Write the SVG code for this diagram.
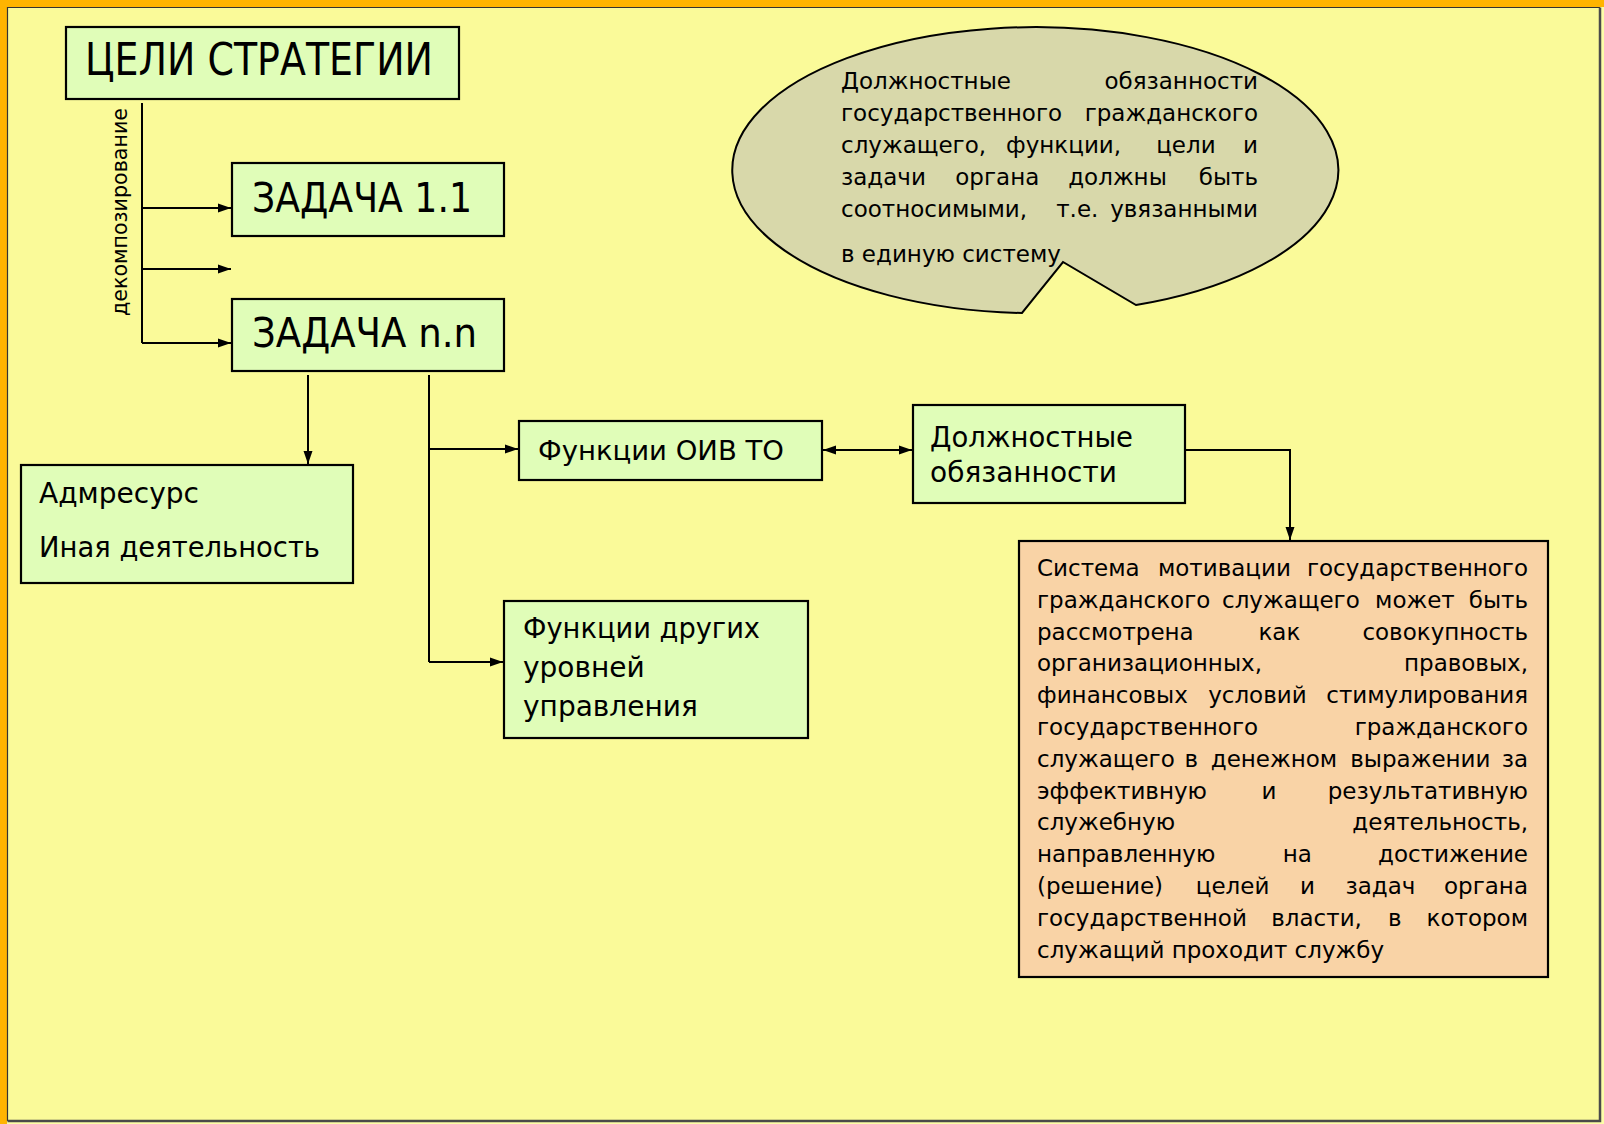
<svg xmlns="http://www.w3.org/2000/svg" width="1604" height="1124" viewBox="0 0 1604 1124">
<defs>
<style>
text{font-family:"DejaVu Sans","Liberation Sans",sans-serif;fill:#000}
.box{fill:#E0FDB8;stroke:#000;stroke-width:2.2}
.peach{fill:#F9D3A6;stroke:#000;stroke-width:2.2}
.bubble{fill:#D8D8AA;stroke:#000;stroke-width:2}
.ln{fill:none;stroke:#000;stroke-width:2}
.p{font-size:23px}
</style>
<marker id="ah" markerUnits="userSpaceOnUse" markerWidth="14" markerHeight="10" refX="13" refY="5" orient="auto-start-reverse">
<path d="M0,0.5 L13,5 L0,9.5 Z" fill="#000"/>
</marker>
</defs>
<rect x="0" y="0" width="1604" height="1124" fill="#FDFDA8"/>
<rect x="7" y="7" width="1593" height="1114" fill="#FAFA99"/>
<rect x="0" y="0" width="1604" height="7" fill="#FFB400"/>
<rect x="0" y="0" width="7" height="1124" fill="#FFB400"/>
<path d="M7.5,1121 V7.5 H1600" fill="none" stroke="#333" stroke-width="1.2"/>
<path d="M1600,7.5 V1121 H7.5" fill="none" stroke="#4a4a4a" stroke-width="2.5"/>

<g id="connectors">
<path class="ln" d="M142,103 V343"/>
<path class="ln" d="M142,208 H231" marker-end="url(#ah)"/>
<path class="ln" d="M142,269 H231" marker-end="url(#ah)"/>
<path class="ln" d="M142,343 H231" marker-end="url(#ah)"/>
<path class="ln" d="M308,375 V464" marker-end="url(#ah)"/>
<path class="ln" d="M429,375 V662"/>
<path class="ln" d="M429,449 H518" marker-end="url(#ah)"/>
<path class="ln" d="M429,662 H503" marker-end="url(#ah)"/>
<path class="ln" d="M823,450 H912" marker-start="url(#ah)" marker-end="url(#ah)"/>
<path class="ln" d="M1185,450 H1290 V540" marker-end="url(#ah)"/>
<text transform="translate(127,212) rotate(-90)" text-anchor="middle" font-size="22" textLength="208" lengthAdjust="spacingAndGlyphs">декомпозирование</text>
</g>

<g id="goals">
<rect class="box" x="66" y="27" width="393" height="72"/>
<text x="85" y="75" font-size="44" textLength="348" lengthAdjust="spacingAndGlyphs">ЦЕЛИ СТРАТЕГИИ</text>
</g>
<g id="task11">
<rect class="box" x="232" y="163" width="272" height="73"/>
<text x="252" y="212" font-size="40" textLength="220" lengthAdjust="spacingAndGlyphs">ЗАДАЧА 1.1</text>
</g>
<g id="tasknn">
<rect class="box" x="232" y="299" width="272" height="72"/>
<text x="252" y="347" font-size="40" textLength="225" lengthAdjust="spacingAndGlyphs">ЗАДАЧА n.n</text>
</g>
<g id="admres">
<rect class="box" x="21" y="465" width="332" height="118"/>
<text x="39" y="503" font-size="28" textLength="160" lengthAdjust="spacingAndGlyphs">Адмресурс</text>
<text x="39" y="557" font-size="28" textLength="281" lengthAdjust="spacingAndGlyphs">Иная деятельность</text>
</g>
<g id="func-oiv">
<rect class="box" x="519" y="421" width="303" height="59"/>
<text x="538" y="460" font-size="27" textLength="246" lengthAdjust="spacingAndGlyphs">Функции ОИВ ТО</text>
</g>
<g id="func-other">
<rect class="box" x="504" y="601" width="304" height="137"/>
<text x="523" y="638" font-size="28" textLength="237" lengthAdjust="spacingAndGlyphs">Функции других</text>
<text x="523" y="677" font-size="28">уровней</text>
<text x="523" y="716" font-size="28">управления</text>
</g>
<g id="duties">
<rect class="box" x="913" y="405" width="272" height="98"/>
<text x="930" y="447" font-size="28" textLength="203" lengthAdjust="spacingAndGlyphs">Должностные</text>
<text x="930" y="482" font-size="28">обязанности</text>
</g>

<g id="callout">
<path class="bubble" d="M1022,313 A303,143 0 1 1 1136,305 L1063,262 Z"/>
<text class="p" y="88.5"><tspan x="841">Должностные</tspan><tspan x="1258" text-anchor="end">обязанности</tspan></text>
<text class="p" y="120.5"><tspan x="841">государственного</tspan><tspan x="1258" text-anchor="end">гражданского</tspan></text>
<text class="p" y="152.5"><tspan x="841">служащего,</tspan><tspan x="1063.6" text-anchor="middle">функции,</tspan><tspan x="1185.9" text-anchor="middle">цели</tspan><tspan x="1258" text-anchor="end">и</tspan></text>
<text class="p" y="184.5"><tspan x="841">задачи</tspan><tspan x="997.3" text-anchor="middle">органа</tspan><tspan x="1117.5" text-anchor="middle">должны</tspan><tspan x="1258" text-anchor="end">быть</tspan></text>
<text class="p" y="216.5"><tspan x="841">соотносимыми,</tspan><tspan x="1077.3" text-anchor="middle">т.е.</tspan><tspan x="1258" text-anchor="end">увязанными</tspan></text>
<text class="p" x="841" y="262">в единую систему</text>
</g>

<g id="motivation">
<rect class="peach" x="1019" y="541" width="529" height="436"/>
<text class="p" y="576"><tspan x="1037">Система</tspan><tspan x="1224.4" text-anchor="middle">мотивации</tspan><tspan x="1528" text-anchor="end">государственного</tspan></text>
<text class="p" y="607.8"><tspan x="1037">гражданского</tspan><tspan x="1290.9" text-anchor="middle">служащего</tspan><tspan x="1414.9" text-anchor="middle">может</tspan><tspan x="1528" text-anchor="end">быть</tspan></text>
<text class="p" y="639.6"><tspan x="1037">рассмотрена</tspan><tspan x="1279.4" text-anchor="middle">как</tspan><tspan x="1528" text-anchor="end">совокупность</tspan></text>
<text class="p" y="671.4"><tspan x="1037">организационных,</tspan><tspan x="1528" text-anchor="end">правовых,</tspan></text>
<text class="p" y="703.2"><tspan x="1037">финансовых</tspan><tspan x="1257.4" text-anchor="middle">условий</tspan><tspan x="1528" text-anchor="end">стимулирования</tspan></text>
<text class="p" y="735"><tspan x="1037">государственного</tspan><tspan x="1528" text-anchor="end">гражданского</tspan></text>
<text class="p" y="766.8"><tspan x="1037">служащего</tspan><tspan x="1191.3" text-anchor="middle">в</tspan><tspan x="1274" text-anchor="middle">денежном</tspan><tspan x="1420.4" text-anchor="middle">выражении</tspan><tspan x="1528" text-anchor="end">за</tspan></text>
<text class="p" y="798.6"><tspan x="1037">эффективную</tspan><tspan x="1268.9" text-anchor="middle">и</tspan><tspan x="1528" text-anchor="end">результативную</tspan></text>
<text class="p" y="830.4"><tspan x="1037">служебную</tspan><tspan x="1528" text-anchor="end">деятельность,</tspan></text>
<text class="p" y="862.2"><tspan x="1037">направленную</tspan><tspan x="1297.4" text-anchor="middle">на</tspan><tspan x="1528" text-anchor="end">достижение</tspan></text>
<text class="p" y="894"><tspan x="1037">(решение)</tspan><tspan x="1232.6" text-anchor="middle">целей</tspan><tspan x="1307.5" text-anchor="middle">и</tspan><tspan x="1380.5" text-anchor="middle">задач</tspan><tspan x="1528" text-anchor="end">органа</tspan></text>
<text class="p" y="925.8"><tspan x="1037">государственной</tspan><tspan x="1316.6" text-anchor="middle">власти,</tspan><tspan x="1394.7" text-anchor="middle">в</tspan><tspan x="1528" text-anchor="end">котором</tspan></text>
<text class="p" x="1037" y="957.6">служащий проходит службу</text>
</g>
</svg>
